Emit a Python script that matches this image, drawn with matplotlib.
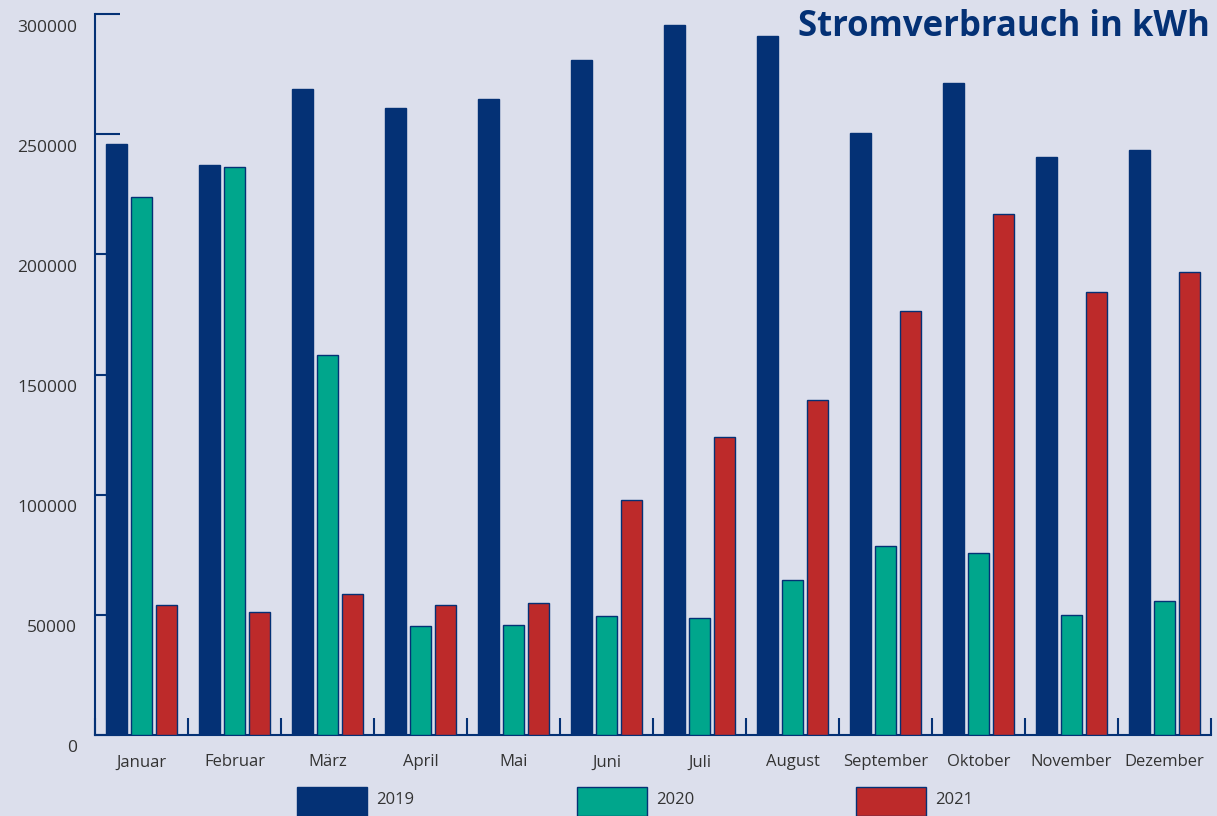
import matplotlib.pyplot as plt
import matplotlib.transforms as mtransforms
from matplotlib.patches import Rectangle
import numpy as np

months = ["Januar", "Februar", "März", "April", "Mai", "Juni", "Juli",
          "August", "September", "Oktober", "November", "Dezember"]
years = ["2019", "2020", "2021"]
v2019 = [245900, 237200, 268800, 260900, 264600, 280900, 295400, 290900, 250500, 271300, 240500, 243400]
v2020 = [223900, 236300, 158100, 45400, 45800, 49500, 48700, 64500, 78600, 75700, 49900, 55800]
v2021 = [54100, 51200, 58700, 54100, 54900, 97800, 124000, 139400, 176400, 216800, 184300, 192700]

bg = "#dcdfec"
navy = "#043175"
colors = [navy, "#00a68c", "#bd2a2a"]
txt = "#333333"

plt.rcParams["font.family"] = ["Open Sans", "DejaVu Sans"]

fig = plt.figure(figsize=(12.17, 8.16), dpi=100, facecolor=bg)
ax = fig.add_axes([95 / 1217, 81 / 816, 1116 / 1217, 721 / 816])
ax.set_facecolor(bg)

x = np.arange(len(months))
step = 0.267
width = 0.22
for i, vals in enumerate([v2019, v2020, v2021]):
    ax.bar(x + (i - 1) * step, vals, width, color=colors[i],
           edgecolor=navy, linewidth=1, zorder=3)

ax.set_xlim(-0.5, 11.5)
ax.set_ylim(0, 300000)

for s in ["top", "right"]:
    ax.spines[s].set_visible(False)
for s in ["left", "bottom"]:
    ax.spines[s].set_color(navy)
    ax.spines[s].set_linewidth(1.5)

ax.set_yticks(np.arange(0, 300001, 50000))
ax.tick_params(axis="y", direction="in", length=18, width=1.5, color=navy,
               pad=13, labelsize=12.5, labelcolor=txt)
offset = mtransforms.ScaledTranslation(0, -0.115, fig.dpi_scale_trans)
for lab in ax.get_yticklabels():
    lab.set_transform(lab.get_transform() + offset)

ax.set_xticks(x)
ax.set_xticklabels(months)
ax.tick_params(axis="x", which="major", length=0, pad=14, labelsize=12, labelcolor=txt)
ax.set_xticks(np.arange(-0.5, 12, 1), minor=True)
ax.tick_params(axis="x", which="minor", direction="in", length=12, width=1.5, color=navy)

fig.text(798 / 1217, 1 - 36 / 816, "Stromverbrauch in kWh", fontsize=25,
         fontweight="bold", color=navy, ha="left", va="baseline")

# legend
for i, yr in enumerate(years):
    left = [297, 577, 856][i]
    fig.patches.append(Rectangle((left / 1217, 0), 70 / 1217, 29 / 816,
                                 transform=fig.transFigure, facecolor=colors[i],
                                 edgecolor=navy, linewidth=1))
    fig.text((left + 79) / 1217, 1 - 800 / 816, yr, fontsize=12, color=txt,
             ha="left", va="center")

fig.savefig("out.png", dpi=100, facecolor=bg)
